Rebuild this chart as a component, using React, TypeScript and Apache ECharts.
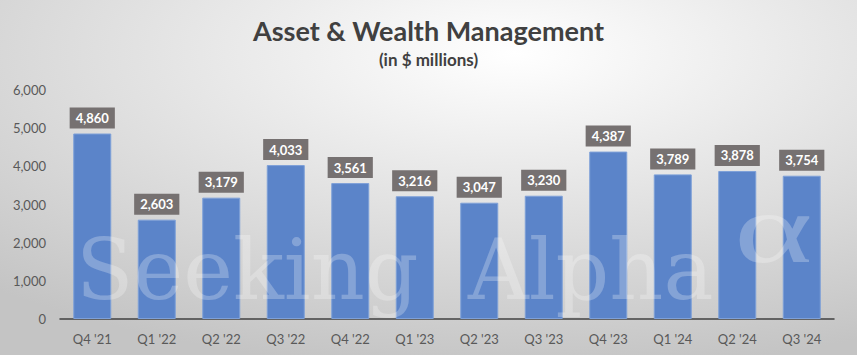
import React, { useEffect, useRef } from "react";
import * as echarts from "echarts";

const categories = ["Q4 '21", "Q1 '22", "Q2 '22", "Q3 '22", "Q4 '22", "Q1 '23", "Q2 '23", "Q3 '23", "Q4 '23", "Q1 '24", "Q2 '24", "Q3 '24"];
const values = [4860, 2603, 3179, 4033, 3561, 3216, 3047, 3230, 4387, 3789, 3878, 3754];

const FONT = "Lato, 'Open Sans', sans-serif";
const WM_FILL = "rgba(255,255,255,0.25)";
const WM_FONT = "84px 'DejaVu Serif', 'Liberation Serif', serif";

export default function App() {
  const ref = useRef<HTMLDivElement>(null);
  useEffect(() => {
    document.body.style.margin = "0";
    if (!ref.current) return;
    const chart = echarts.init(ref.current, null, { renderer: "svg" });
    chart.setOption({
      animation: false,
      backgroundColor: {
        type: "radial",
        x: 0.6,
        y: 0.15,
        r: 0.9,
        colorStops: [
          { offset: 0, color: "#ffffff" },
          { offset: 1, color: "#c4c4c4" },
        ],
      },
      title: [
        {
          text: "Asset & Wealth Management",
          left: "center",
          top: 12,
          textStyle: { fontFamily: FONT, fontSize: 27, fontWeight: "bold", color: "#404040" },
        },
        {
          text: "(in $ millions)",
          left: "center",
          top: 46,
          textStyle: { fontFamily: FONT, fontSize: 17, fontWeight: "bold", color: "#404040" },
        },
      ],
      graphic: [
        {
          type: "text",
          left: 76,
          top: 228,
          z: 10,
          style: { text: "Seeking", font: WM_FONT, fill: WM_FILL },
        },
        {
          type: "text",
          left: 468,
          top: 228,
          z: 10,
          style: { text: "Alpha", font: WM_FONT, fill: WM_FILL },
        },
        {
          type: "text",
          x: 734,
          y: 178,
          scaleX: 1.5,
          z: 10,
          style: { text: "α", font: "100px 'Liberation Serif', serif", fill: WM_FILL },
        },
      ],
      grid: { left: 60, right: 23, top: 90, bottom: 36 },
      xAxis: {
        type: "category",
        data: categories,
        axisLine: { lineStyle: { color: "#404040", width: 1.5 } },
        axisTick: { show: false },
        axisLabel: { fontFamily: FONT, fontSize: 13, color: "#595959", margin: 13 },
      },
      yAxis: {
        type: "value",
        min: 0,
        max: 6000,
        interval: 1000,
        splitLine: { show: false },
        axisLine: { show: false },
        axisTick: { show: false },
        axisLabel: {
          fontFamily: FONT,
          fontSize: 13,
          color: "#595959",
          margin: 14,
          formatter: (v: number) => v.toLocaleString("en-US"),
        },
      },
      series: [
        {
          type: "bar",
          data: values,
          barWidth: 38,
          itemStyle: { color: "#5b84c9", borderColor: "#7ea0d8", borderWidth: 1 },
          label: {
            show: true,
            position: "top",
            distance: 5,
            formatter: (p: any) => Number(p.value).toLocaleString("en-US"),
            backgroundColor: "#767171",
            color: "#ffffff",
            fontFamily: FONT,
            fontWeight: "bold",
            fontSize: 13,
            padding: [4, 6, 4, 6],
          },
        },
      ],
    });
    return () => chart.dispose();
  }, []);
  return <div ref={ref} style={{ width: 857, height: 355 }} />;
}
